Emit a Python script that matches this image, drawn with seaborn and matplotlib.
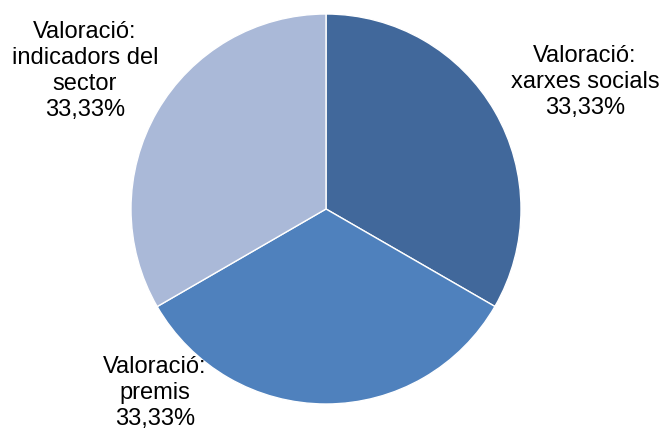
import matplotlib
matplotlib.use("Agg")
import matplotlib.pyplot as plt
import seaborn as sns

# Shares of the valuation
categories = ["Valoració:\nxarxes socials", "Valoració:\npremis", "Valoració:\nindicadors del\nsector"]
shares = [33.33, 33.33, 33.34]
shown = [33.33, 33.33, 33.33]

sns.set_theme(style="white")
plt.rcParams["font.family"] = ["Liberation Sans", "DejaVu Sans"]

colors = ["#41689b", "#4f81bd", "#aab9d8"]

fig = plt.figure(figsize=(6.64, 4.33), dpi=100)
ax = fig.add_axes([0, 0, 1, 1])

ax.pie(shares, colors=colors, startangle=90, counterclock=False,
       center=(326, 224), radius=195,
       wedgeprops=dict(edgecolor="white", linewidth=1))

# Work in pixel-sized data units over the whole canvas
ax.set_xlim(0, 664)
ax.set_ylim(0, 433)
ax.set_aspect("equal")
ax.axis("off")

label_pos = [(585, 351), (155, 40), (85, 362)]
for cat, val, (x, y) in zip(categories, shown, label_pos):
    txt = f"{cat}\n{val:.2f}%".replace(".", ",")
    ax.text(x, y, txt, ha="center", va="center", fontsize=17,
            color="black", linespacing=1.22)

fig.savefig("out.png", dpi=100, facecolor="white")
